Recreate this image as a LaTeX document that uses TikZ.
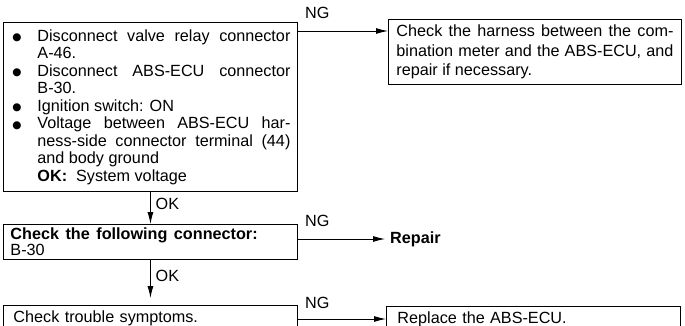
\documentclass[tikz,border=0pt]{standalone}
\usepackage{fontspec}
\setmainfont{Liberation Sans}
\newfontfamily\dvfont{DejaVu Sans}
\usetikzlibrary{arrows.meta,calc}
\newcommand\mybul{\hangindent=27pt\hangafter=1\noindent\makebox[27pt][l]{\hspace{2pt}\raisebox{0.5pt}{\dvfont\fontsize{10.5}{10}\selectfont ●}}}
\begin{document}
\begin{tikzpicture}[x=1pt,y=-1pt,
  box/.style={draw, line width=0.9pt, inner xsep=7pt, inner ysep=0pt, anchor=north west,
    font=\fontsize{16.2}{17.5}\selectfont},
  arr/.style={-{Latex[length=12pt,width=6pt]}, line width=0.9pt},
  lbl/.style={font=\fontsize{16.2}{17}\selectfont, inner sep=0pt}]
\useasboundingbox (0,0) rectangle (685,326);

% box 1
\node[box, text width=280pt, minimum height=169pt, align=justify] (b1) at (3,22) {%
\mybul Disconnect valve relay connector\linebreak A-46.\par
\mybul Disconnect ABS-ECU connector\linebreak B-30.\par
\mybul Ignition switch: ON\par
\mybul Voltage between ABS-ECU har-\linebreak ness-side connector terminal (44)\linebreak and body ground\par
\noindent\hspace*{27pt}\textbf{OK:}\ \ System voltage\par};

% box 2
\node[box, inner xsep=8pt, text width=277pt, minimum height=65pt, align=justify,
  font=\fontsize{16.2}{19.5}\selectfont] (b2) at (388,19) {%
Check the harness between the com-\linebreak bination meter and the ABS-ECU, and\linebreak repair if necessary.};

% box 3
\node[box, text width=280pt, minimum height=35pt, align=left,
  font=\fontsize{16.2}{15.5}\selectfont] (b3) at (3,224) {%
\textbf{Check\hspace{6.5pt}the\hspace{6.5pt}following\hspace{6.5pt}connector:}\\B-30};

% box 4
\node[box, inner xsep=10pt, text width=274pt, inner ysep=5pt, align=left] (b4) at (3,305) {Check trouble symptoms.};

% box 5
\node[box, inner xsep=11pt, text width=272pt, inner ysep=5pt, align=left] (b5) at (386,306) {Replace the ABS-ECU.};

% Repair
\node[lbl, inner xsep=5pt, anchor=west, font=\bfseries\fontsize{16.2}{17}\selectfont] (rep) at (385,239) {Repair};

% NG connectors
\coordinate (n1) at (297,31);
\draw[arr] (b1.east |- n1) -- (n1 -| b2.west);
\node[lbl, anchor=base west] at ([xshift=8pt,yshift=12.5pt]n1) {NG};

\coordinate (n2) at (297,239);
\draw[arr] (b3.east |- n2) -- (rep.west);
\node[lbl, anchor=base west] at ([xshift=8pt,yshift=12.5pt]n2) {NG};

\coordinate (n3) at (297,319);
\draw[arr] (b4.east |- n3) -- (n3 -| b5.west);
\node[lbl, anchor=base west] at ([xshift=8pt,yshift=10.5pt]n3) {NG};

% OK connectors
\draw[arr] (b1.south) -- (b3.north);
\node[lbl, anchor=west] at ($(b1.south)!0.38!(b3.north)+(5,0)$) {OK};
\coordinate (k4) at ([yshift=7pt]b4.north);
\draw[arr] (b3.south) -- (k4);
\node[lbl, anchor=west] at ($(b3.south)!0.42!(k4)+(5,0)$) {OK};
\end{tikzpicture}
\end{document}
